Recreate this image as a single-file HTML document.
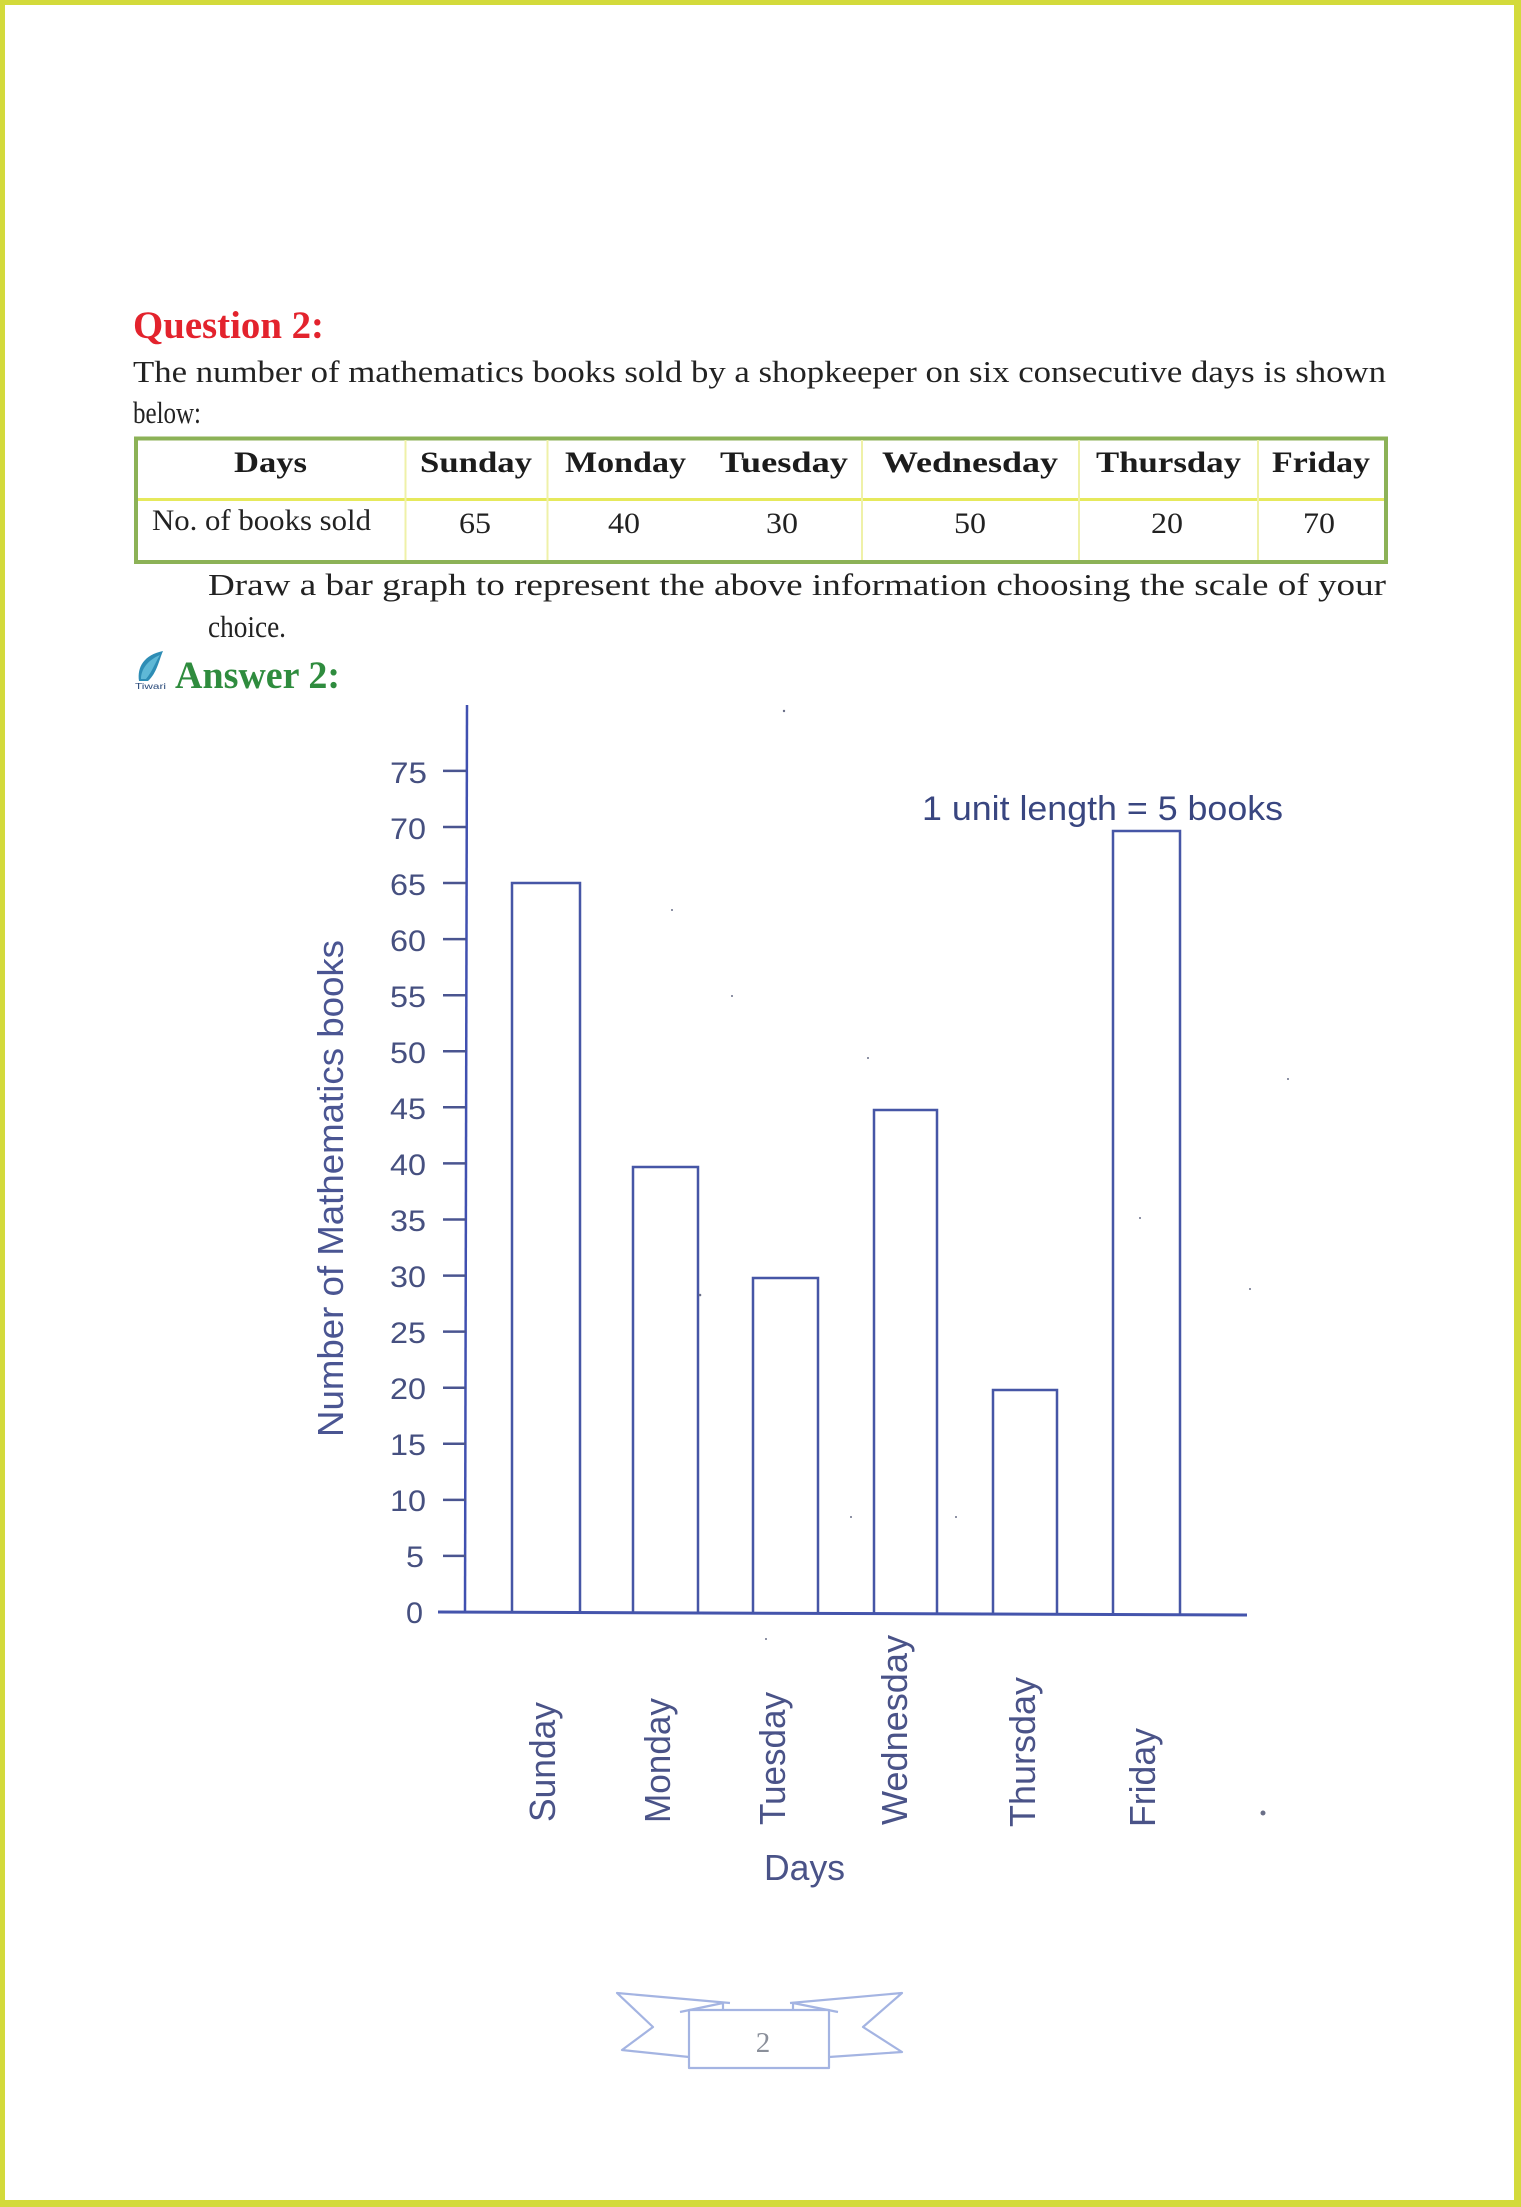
<!DOCTYPE html>
<html>
<head>
<meta charset="utf-8">
<style>
  html, body { margin: 0; padding: 0; background: #ffffff; }
  svg { display: block; }
</style>
</head>
<body>
<svg xmlns="http://www.w3.org/2000/svg" width="1521" height="2207" viewBox="0 0 1521 2207">
  <rect x="0" y="0" width="1521" height="2207" fill="#ffffff"/>

  <!-- page border -->
  <rect x="0" y="0" width="1521" height="5" fill="#d3da3b"/>
  <rect x="0" y="0" width="5" height="2207" fill="#d3da3b"/>
  <rect x="1514" y="0" width="7" height="2207" fill="#d3da3b"/>
  <rect x="0" y="2200" width="1521" height="7" fill="#d3da3b"/>

  <!-- Question heading -->
  <text x="133" y="338" font-family="Liberation Serif, serif" font-weight="bold" font-size="39" fill="#e3232d" textLength="191" lengthAdjust="spacingAndGlyphs">Question 2:</text>

  <!-- paragraph -->
  <g font-family="Liberation Serif, serif" font-size="31" fill="#222222">
    <text x="133" y="382" textLength="1253" lengthAdjust="spacingAndGlyphs">The number of mathematics books sold by a shopkeeper on six consecutive days is shown</text>
    <text x="133" y="423" textLength="68" lengthAdjust="spacingAndGlyphs">below:</text>
  </g>

  <!-- table -->
  <rect x="136" y="438.5" width="1250" height="123.5" fill="#ffffff" stroke="#8cb257" stroke-width="4"/>
  <line x1="138" y1="499.5" x2="1384" y2="499.5" stroke="#e6e95c" stroke-width="3"/>
  <g stroke="#eff1a8" stroke-width="2">
    <line x1="405.5" y1="440" x2="405.5" y2="560"/>
    <line x1="547.5" y1="440" x2="547.5" y2="560"/>
    <line x1="862" y1="440" x2="862" y2="560"/>
    <line x1="1079" y1="440" x2="1079" y2="560"/>
    <line x1="1258" y1="440" x2="1258" y2="560"/>
  </g>
  <g font-family="Liberation Serif, serif" font-weight="bold" font-size="30" fill="#1c1c1c">
    <text x="234" y="472" textLength="73" lengthAdjust="spacingAndGlyphs">Days</text>
    <text x="420" y="472" textLength="112" lengthAdjust="spacingAndGlyphs">Sunday</text>
    <text x="565" y="472" textLength="121" lengthAdjust="spacingAndGlyphs">Monday</text>
    <text x="720" y="472" textLength="128" lengthAdjust="spacingAndGlyphs">Tuesday</text>
    <text x="882" y="472" textLength="176" lengthAdjust="spacingAndGlyphs">Wednesday</text>
    <text x="1096" y="472" textLength="145" lengthAdjust="spacingAndGlyphs">Thursday</text>
    <text x="1272" y="472" textLength="98" lengthAdjust="spacingAndGlyphs">Friday</text>
  </g>
  <g font-family="Liberation Serif, serif" font-size="30" fill="#222222">
    <text x="152" y="530" textLength="219" lengthAdjust="spacingAndGlyphs">No. of books sold</text>
    <text x="459" y="533" textLength="32" lengthAdjust="spacingAndGlyphs">65</text>
    <text x="608" y="533" textLength="32" lengthAdjust="spacingAndGlyphs">40</text>
    <text x="766" y="533" textLength="32" lengthAdjust="spacingAndGlyphs">30</text>
    <text x="954" y="533" textLength="32" lengthAdjust="spacingAndGlyphs">50</text>
    <text x="1151" y="533" textLength="32" lengthAdjust="spacingAndGlyphs">20</text>
    <text x="1303" y="533" textLength="32" lengthAdjust="spacingAndGlyphs">70</text>
  </g>

  <!-- draw instruction -->
  <g font-family="Liberation Serif, serif" font-size="31" fill="#222222">
    <text x="208" y="595" textLength="1178" lengthAdjust="spacingAndGlyphs">Draw a bar graph to represent the above information choosing the scale of your</text>
    <text x="208" y="637" textLength="78" lengthAdjust="spacingAndGlyphs">choice.</text>
  </g>

  <!-- Answer icon -->
  <path d="M139,681 C137,667 144,655 163,651 C159,660 157,673 148,681 Z" fill="#2e8db5"/>
  <path d="M141,679 C141,669 148,660 160,655 C155,663 152,672 146,679 Z" fill="#5fb8d6"/>
  <text x="135" y="689" font-family="Liberation Sans, sans-serif" font-size="8" fill="#2a4a7a" textLength="31" lengthAdjust="spacingAndGlyphs">Tiwari</text>
  <text x="175" y="688" font-family="Liberation Serif, serif" font-weight="bold" font-size="39" fill="#2f8c3e" textLength="165" lengthAdjust="spacingAndGlyphs">Answer 2:</text>

  <!-- CHART -->
  <!-- y axis -->
  <line x1="467" y1="705" x2="465" y2="1612" stroke="#4050b0" stroke-width="2.5"/>
  <!-- x axis -->
  <line x1="438" y1="1612" x2="1247" y2="1615" stroke="#4454ac" stroke-width="3"/>

  <!-- ticks -->
  <g stroke="#4a5590" stroke-width="2.5">
    <line x1="443" y1="1555.9" x2="466" y2="1555.9"/>
    <line x1="443" y1="1499.9" x2="466" y2="1499.9"/>
    <line x1="443" y1="1443.8" x2="466" y2="1443.8"/>
    <line x1="443" y1="1387.7" x2="466" y2="1387.7"/>
    <line x1="443" y1="1331.6" x2="466" y2="1331.6"/>
    <line x1="443" y1="1275.6" x2="466" y2="1275.6"/>
    <line x1="443" y1="1219.5" x2="466" y2="1219.5"/>
    <line x1="443" y1="1163.4" x2="466" y2="1163.4"/>
    <line x1="443" y1="1107.3" x2="466" y2="1107.3"/>
    <line x1="443" y1="1051.3" x2="466" y2="1051.3"/>
    <line x1="443" y1="995.2" x2="466" y2="995.2"/>
    <line x1="443" y1="939.1" x2="466" y2="939.1"/>
    <line x1="443" y1="883.0" x2="466" y2="883.0"/>
    <line x1="443" y1="827.0" x2="466" y2="827.0"/>
    <line x1="443" y1="770.9" x2="466" y2="770.9"/>
  </g>

  <!-- tick labels -->
  <g font-family="Liberation Sans, sans-serif" font-size="30" fill="#465080" text-anchor="end">
    <text x="423" y="1623" textLength="17" lengthAdjust="spacingAndGlyphs">0</text>
    <text x="424" y="1567" textLength="18" lengthAdjust="spacingAndGlyphs">5</text>
    <text x="426" y="1511" textLength="36" lengthAdjust="spacingAndGlyphs">10</text>
    <text x="426" y="1455" textLength="36" lengthAdjust="spacingAndGlyphs">15</text>
    <text x="426" y="1399" textLength="36" lengthAdjust="spacingAndGlyphs">20</text>
    <text x="426" y="1343" textLength="36" lengthAdjust="spacingAndGlyphs">25</text>
    <text x="426" y="1287" textLength="36" lengthAdjust="spacingAndGlyphs">30</text>
    <text x="426" y="1231" textLength="36" lengthAdjust="spacingAndGlyphs">35</text>
    <text x="426" y="1175" textLength="36" lengthAdjust="spacingAndGlyphs">40</text>
    <text x="426" y="1119" textLength="36" lengthAdjust="spacingAndGlyphs">45</text>
    <text x="426" y="1063" textLength="36" lengthAdjust="spacingAndGlyphs">50</text>
    <text x="426" y="1007" textLength="36" lengthAdjust="spacingAndGlyphs">55</text>
    <text x="426" y="951" textLength="36" lengthAdjust="spacingAndGlyphs">60</text>
    <text x="426" y="895" textLength="36" lengthAdjust="spacingAndGlyphs">65</text>
    <text x="426" y="839" textLength="36" lengthAdjust="spacingAndGlyphs">70</text>
    <text x="427" y="783" textLength="37" lengthAdjust="spacingAndGlyphs">75</text>
  </g>

  <!-- bars -->
  <g fill="none" stroke="#4656a6" stroke-width="2.5">
    <path d="M512,1612 V883 H580 V1612"/>
    <path d="M633,1612 V1167 H698 V1612"/>
    <path d="M753,1613 V1278 H818 V1613"/>
    <path d="M874,1613 V1110 H937 V1613"/>
    <path d="M993,1614 V1390 H1057 V1614"/>
    <path d="M1113,1614 V831 H1180 V1614"/>
  </g>

  <!-- scale note -->
  <text x="922" y="820" font-family="Liberation Sans, sans-serif" font-size="34" fill="#394680" textLength="361" lengthAdjust="spacingAndGlyphs">1 unit length = 5 books</text>

  <!-- y axis title -->
  <text transform="translate(343,1437) rotate(-90)" x="0" y="0" font-family="Liberation Sans, sans-serif" font-size="36" fill="#4a5592" textLength="497" lengthAdjust="spacingAndGlyphs">Number of Mathematics books</text>

  <!-- day labels -->
  <g font-family="Liberation Sans, sans-serif" font-size="36" fill="#4a5388">
    <text transform="translate(555,1822) rotate(-90)" textLength="120" lengthAdjust="spacingAndGlyphs">Sunday</text>
    <text transform="translate(670,1823) rotate(-90)" textLength="125" lengthAdjust="spacingAndGlyphs">Monday</text>
    <text transform="translate(785,1825) rotate(-90)" textLength="133" lengthAdjust="spacingAndGlyphs">Tuesday</text>
    <text transform="translate(907,1825) rotate(-90)" textLength="190" lengthAdjust="spacingAndGlyphs">Wednesday</text>
    <text transform="translate(1035,1827) rotate(-90)" textLength="150" lengthAdjust="spacingAndGlyphs">Thursday</text>
    <text transform="translate(1155,1827) rotate(-90)" textLength="99" lengthAdjust="spacingAndGlyphs">Friday</text>
  </g>
  <text x="764" y="1880" font-family="Liberation Sans, sans-serif" font-size="36" fill="#4a5388" textLength="81" lengthAdjust="spacingAndGlyphs">Days</text>

  <!-- scan specks -->
  <g fill="#6a6f88">
    <circle cx="1263" cy="1813" r="2.5"/>
    <circle cx="784" cy="711" r="1.2"/>
    <circle cx="672" cy="910" r="1"/>
    <circle cx="732" cy="996" r="1"/>
    <circle cx="868" cy="1058" r="1"/>
    <circle cx="700" cy="1295" r="1.3"/>
    <circle cx="1140" cy="1218" r="1"/>
    <circle cx="1288" cy="1079" r="1"/>
    <circle cx="1250" cy="1289" r="1"/>
    <circle cx="851" cy="1517" r="1"/>
    <circle cx="956" cy="1517" r="1"/>
    <circle cx="766" cy="1639" r="1"/>
  </g>

  <!-- footer ribbon -->
  <g fill="none" stroke="#a4b4e2" stroke-width="2.2" stroke-linejoin="round">
    <polyline points="730,2003 617,1993 653,2027 622,2050 689,2057"/>
    <polyline points="790,2003 902,1993 863,2027 902,2052 829,2057"/>
    <rect x="689" y="2010" width="140" height="58"/>
    <polyline points="680,2012 723,2003 723,2011"/>
    <polyline points="838,2012 793,2003 793,2011"/>
  </g>
  <text x="763" y="2052" font-family="Liberation Serif, serif" font-size="29" fill="#8a8f9a" text-anchor="middle">2</text>
</svg>
</body>
</html>
